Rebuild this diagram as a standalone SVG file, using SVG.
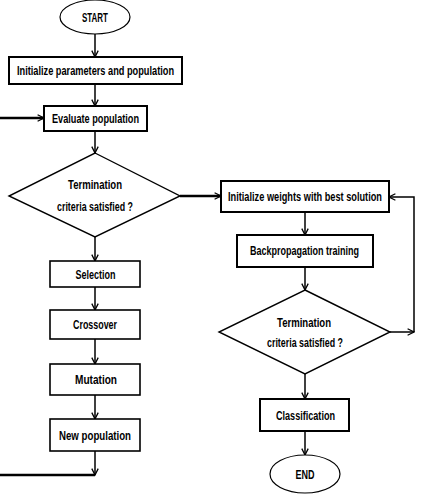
<svg xmlns="http://www.w3.org/2000/svg" width="421" height="501" viewBox="0 0 421 501">
  <style>
    .box { fill: #fff; stroke: #000; stroke-width: 2; }
    .thin { fill: #fff; stroke: #000; stroke-width: 1.6; }
    .dia { fill: #fff; stroke: #000; stroke-width: 1.4; }
    .ell { fill: #fff; stroke: #000; stroke-width: 1.2; }
    .lbl { font-family: "Liberation Sans", Arial, sans-serif; font-weight: bold; font-size: 13px; fill: #000; text-anchor: middle; }
    .ln { fill: none; stroke: #000; stroke-width: 1.5; }
    .thick { fill: none; stroke: #000; stroke-width: 2.5; }
  </style>
  <defs>
    <marker id="arr" viewBox="0 0 10 10" refX="9" refY="5" markerWidth="8" markerHeight="8" markerUnits="userSpaceOnUse" orient="auto">
      <path d="M1,1 L9,5 L1,9" fill="none" stroke="#000" stroke-width="1.6"/>
    </marker>
  </defs>
  <rect width="421" height="501" fill="#fff"/>

  <g id="connectors">
    <line class="ln" x1="95" y1="34" x2="95" y2="57" marker-end="url(#arr)"/>
    <line class="ln" x1="95" y1="84" x2="95" y2="106" marker-end="url(#arr)"/>
    <line class="thick" x1="0" y1="118" x2="44" y2="118" marker-end="url(#arr)"/>
    <line class="ln" x1="95" y1="131" x2="95" y2="153" marker-end="url(#arr)"/>
    <line class="thick" x1="180" y1="196" x2="221" y2="196" marker-end="url(#arr)"/>
    <line class="ln" x1="95" y1="237" x2="95" y2="261" marker-end="url(#arr)"/>
    <line class="ln" x1="95" y1="287" x2="95" y2="310" marker-end="url(#arr)"/>
    <line class="ln" x1="95" y1="339" x2="95" y2="364" marker-end="url(#arr)"/>
    <line class="ln" x1="95" y1="395" x2="95" y2="419" marker-end="url(#arr)"/>
    <line class="ln" x1="95" y1="451" x2="95" y2="475" marker-end="url(#arr)"/>
    <line class="thick" x1="95" y1="475" x2="0" y2="475"/>
    <line class="ln" x1="305" y1="212" x2="305" y2="235" marker-end="url(#arr)"/>
    <line class="ln" x1="305" y1="267" x2="305" y2="290" marker-end="url(#arr)"/>
    <line class="ln" x1="390" y1="332" x2="414" y2="332" marker-end="url(#arr)"/>
    <polyline class="ln" points="414,332 414,197 389,197" marker-end="url(#arr)"/>
    <line class="ln" x1="305" y1="374" x2="305" y2="399" marker-end="url(#arr)"/>
    <line class="ln" x1="305" y1="431" x2="305" y2="455" marker-end="url(#arr)"/>
  </g>

  <g id="start">
    <ellipse class="ell" cx="95" cy="17" rx="35" ry="17"/>
    <text class="lbl" x="95" y="22" textLength="26" lengthAdjust="spacingAndGlyphs">START</text>
  </g>
  <g id="init-params">
    <rect class="box" x="9" y="57" width="173" height="27"/>
    <text class="lbl" x="95.5" y="75" textLength="157" lengthAdjust="spacingAndGlyphs">Initialize parameters and population</text>
  </g>
  <g id="evaluate">
    <rect class="box" x="44" y="106" width="103" height="25"/>
    <text class="lbl" x="95.5" y="123" textLength="87" lengthAdjust="spacingAndGlyphs">Evaluate population</text>
  </g>
  <g id="termination-ga">
    <polygon class="dia" points="95,153 180,196 95,237 9,196"/>
    <text class="lbl" x="95" y="189" textLength="54" lengthAdjust="spacingAndGlyphs">Termination</text>
    <text class="lbl" x="95" y="211" textLength="76" lengthAdjust="spacingAndGlyphs">criteria satisfied ?</text>
  </g>
  <g id="selection">
    <rect class="thin" x="50" y="261" width="90" height="26"/>
    <text class="lbl" x="95.5" y="279" textLength="40" lengthAdjust="spacingAndGlyphs">Selection</text>
  </g>
  <g id="crossover">
    <rect class="thin" x="50" y="310" width="90" height="29"/>
    <text class="lbl" x="95" y="329" textLength="44" lengthAdjust="spacingAndGlyphs">Crossover</text>
  </g>
  <g id="mutation">
    <rect class="thin" x="50" y="364" width="90" height="31"/>
    <text class="lbl" x="96" y="384" textLength="42" lengthAdjust="spacingAndGlyphs">Mutation</text>
  </g>
  <g id="new-population">
    <rect class="thin" x="50" y="419" width="90" height="32"/>
    <text class="lbl" x="95" y="440" textLength="72" lengthAdjust="spacingAndGlyphs">New population</text>
  </g>
  <g id="init-weights">
    <rect class="box" x="221" y="181" width="168" height="31"/>
    <text class="lbl" x="305" y="201" textLength="154" lengthAdjust="spacingAndGlyphs">Initialize weights with best solution</text>
  </g>
  <g id="backprop">
    <rect class="box" x="237" y="235" width="136" height="32"/>
    <text class="lbl" x="304.5" y="255" textLength="109" lengthAdjust="spacingAndGlyphs">Backpropagation training</text>
  </g>
  <g id="termination-bp">
    <polygon class="dia" points="305,290 390,332 305,374 219,332"/>
    <text class="lbl" x="304" y="327" textLength="54" lengthAdjust="spacingAndGlyphs">Termination</text>
    <text class="lbl" x="305" y="347" textLength="76" lengthAdjust="spacingAndGlyphs">criteria satisfied ?</text>
  </g>
  <g id="classification">
    <rect class="box" x="260" y="399" width="89" height="32"/>
    <text class="lbl" x="305.5" y="420" textLength="59" lengthAdjust="spacingAndGlyphs">Classification</text>
  </g>
  <g id="end">
    <ellipse class="ell" cx="305" cy="474" rx="35" ry="19"/>
    <text class="lbl" x="305" y="479" textLength="19" lengthAdjust="spacingAndGlyphs">END</text>
  </g>
</svg>
